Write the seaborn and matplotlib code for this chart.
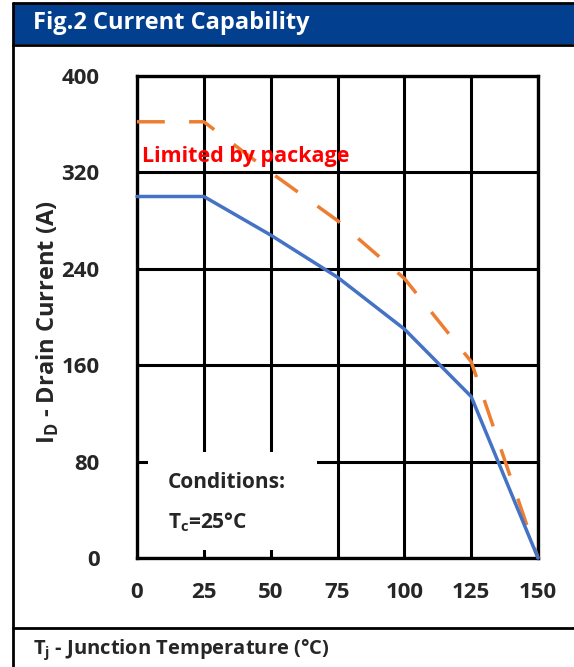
import pandas as pd
import seaborn as sns
import matplotlib.pyplot as plt
from matplotlib.patches import Rectangle
from matplotlib.lines import Line2D

# Data
temps = [0, 25, 50, 75, 100, 125, 150]
current_chip = [300, 300, 268, 233, 190, 134, 0]
current_pkg = [362, 362, 320, 280, 232, 163, 0]
x_ticks = [0, 25, 50, 75, 100, 125, 150]
y_ticks = [0, 80, 160, 240, 320, 400]

df = pd.DataFrame({"Tj": temps, "chip": current_chip, "pkg": current_pkg})

sns.set_theme(style="white")
plt.rcParams['font.family'] = ['Open Sans', 'DejaVu Sans']
plt.rcParams['font.weight'] = 'bold'
plt.rcParams['mathtext.fontset'] = 'custom'
plt.rcParams['mathtext.rm'] = 'Open Sans:bold'
plt.rcParams['mathtext.bf'] = 'Open Sans:bold'

W, H = 574, 667
fig = plt.figure(figsize=(W / 100, H / 100), dpi=100)
fig.patch.set_facecolor('white')

ax = fig.add_axes([137 / W, (H - 558) / H, 401 / W, 482 / H])

sns.lineplot(data=df, x="Tj", y="pkg", ax=ax, color="#ED7D31", lw=2.5,
             clip_on=False, zorder=3)
ax.lines[-1].set_dashes((8, 7))
sns.lineplot(data=df, x="Tj", y="chip", ax=ax, color="#4472C4", lw=2.5,
             clip_on=False, zorder=4)

ax.set_xlim(0, 150)
ax.set_ylim(0, 400)
ax.set_xticks(x_ticks)
ax.set_yticks(y_ticks)
ax.set_xticklabels([str(v) for v in x_ticks], fontsize=16, fontweight='bold')
ax.set_yticklabels([str(v) for v in y_ticks], fontsize=16, fontweight='bold')
ax.tick_params(axis='x', length=0, pad=17)
ax.tick_params(axis='y', length=0, pad=27)
ax.grid(True, color='black', lw=2.2)
ax.set_axisbelow(True)
for s in ax.spines.values():
    s.set_color('black')
    s.set_linewidth(2.4)
ax.set_xlabel("")
ax.set_ylabel(r"I$_{\mathbf{D}}$ - Drain Current (A)", fontsize=17,
              fontweight='bold')
ax.yaxis.set_label_coords(-0.19, 0.49)

ax.text(1.8, 333, "Limited by package", color="#FF0000", fontsize=15.5,
        fontweight='bold', va='center', ha='left', zorder=5)

# conditions box
ax.add_patch(Rectangle((4.1, 6.6), 63.4, 81.5, facecolor='white',
                       edgecolor='none', zorder=2.5))
ax.text(11.5, 63, "Conditions:", fontsize=15, fontweight='bold',
        va='center', ha='left', zorder=5)
ax.text(11.5, 30, r"T$_{\mathbf{c}}$=25°C", fontsize=15, fontweight='bold',
        va='center', ha='left', zorder=5)

# header bar and frame
fig.patches.append(Rectangle((13 / W, (H - 44) / H), 1, 41 / H,
                             transform=fig.transFigure, facecolor='#02408F',
                             edgecolor='none', zorder=0))
for y in (2.5, 44.5, 628):
    fig.lines.append(Line2D([13 / W, 1], [(H - y) / H] * 2,
                            transform=fig.transFigure, color='black', lw=2))
fig.lines.append(Line2D([13 / W] * 2, [0, (H - 2.5) / H],
                        transform=fig.transFigure, color='black', lw=2))

fig.text(33 / W, (H - 23) / H, "Fig.2 Current Capability", color='white',
         fontsize=17, fontweight='bold', va='center', ha='left')
fig.text(33 / W, (H - 650) / H, r"T$_{\mathbf{j}}$ - Junction Temperature (°C)",
         fontsize=14.5, fontweight='bold', va='center', ha='left')

fig.savefig("out.png", dpi=100)
